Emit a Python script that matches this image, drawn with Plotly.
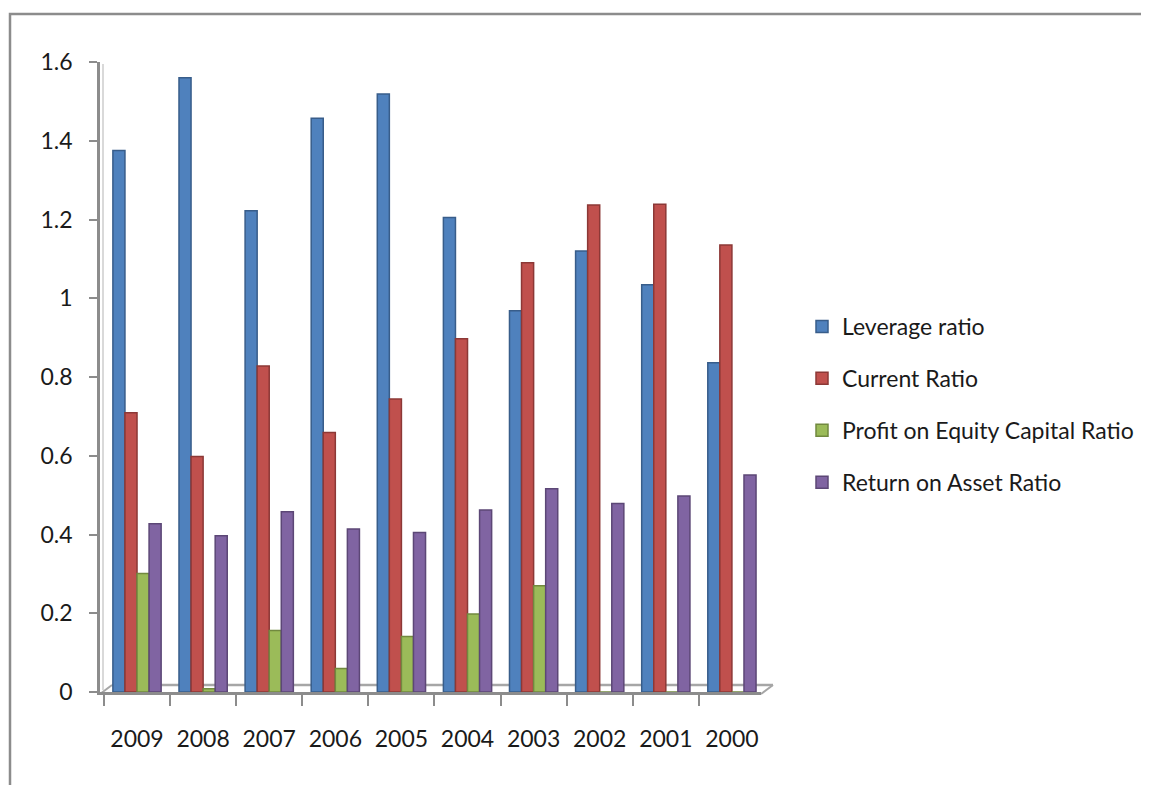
import plotly.graph_objects as go

years = ["2009", "2008", "2007", "2006", "2005", "2004", "2003", "2002", "2001", "2000"]
leverage = [1.375, 1.56, 1.222, 1.457, 1.519, 1.205, 0.968, 1.12, 1.034, 0.836]
current = [0.709, 0.598, 0.828, 0.659, 0.744, 0.897, 1.09, 1.237, 1.239, 1.135]
profit_equity = [0.301, 0.008, 0.156, 0.06, 0.141, 0.198, 0.27, 0, 0, 0]
return_asset = [0.427, 0.397, 0.458, 0.414, 0.405, 0.462, 0.516, 0.479, 0.498, 0.551]

series = [
    ("Leverage ratio", leverage, "#4F81BD", "#385D8A"),
    ("Current Ratio", current, "#C0504D", "#8C3836"),
    ("Profit on Equity Capital Ratio", profit_equity, "#9BBB59", "#71893F"),
    ("Return on Asset Ratio", return_asset, "#8064A2", "#5C4776"),
]

FONT = "Lato, sans-serif"
fig = go.Figure()
for i, (name, vals, col, edge) in enumerate(series):
    fig.add_trace(go.Bar(
        x=years, y=vals, name=name, legendgroup=name,
        marker=dict(color=col, line=dict(color=edge, width=1.5)),
    ))

# page has an 8px body margin: figure coords = reference coords - 8
OFF = 8
W, H = 1149 - OFF, 785 - OFF
L, R, T, B = 100 - OFF, 761 - OFF, 62 - OFF, 692 - OFF
def px(x):
    return (x - OFF - L) / (R - L)
def py(y):
    return (B - (y - OFF)) / (B - T)

gray = "#8C8C8C"
shapes = [
    dict(type="rect", xref="paper", yref="paper", x0=px(10), y0=py(900), x1=px(1300), y1=py(14),
         line=dict(color=gray, width=2.5), layer="below"),
    dict(type="line", xref="paper", yref="paper", x0=px(112), y0=py(685), x1=px(773), y1=py(685),
         line=dict(color="#A6A6A6", width=2.5), layer="below"),
    dict(type="line", xref="paper", yref="paper", x0=px(100), y0=py(694), x1=px(112), y1=py(685),
         line=dict(color="#A6A6A6", width=2), layer="below"),
    dict(type="line", xref="paper", yref="paper", x0=px(761), y0=py(694), x1=px(773), y1=py(685),
         line=dict(color="#A6A6A6", width=2), layer="below"),
    dict(type="line", xref="paper", yref="paper", x0=px(103), y0=py(64), x1=px(103), y1=py(690),
         line=dict(color="#D9D9D9", width=2), layer="below"),
]

fig.update_layout(
    width=W, height=H, autosize=False,
    margin=dict(l=L, r=W - R, t=T, b=H - B),
    paper_bgcolor="white", plot_bgcolor="white",
    barmode="group", bargap=0.27, bargroupgap=0.0,
    font=dict(family=FONT, size=22, color="#1a1a1a"),
    showlegend=True,
    legend=dict(xref="container", yref="container", x=794 / W, y=1 - 297 / H,
                xanchor="left", yanchor="top", tracegroupgap=19,
                font=dict(family=FONT, size=23, color="#1a1a1a"),
                bgcolor="rgba(0,0,0,0)"),
    shapes=shapes,
    xaxis=dict(type="category", categoryorder="array", categoryarray=years,
               range=[-0.56, 9.44], showgrid=False, zeroline=False,
               showline=True, linecolor=gray, linewidth=2.5,
               ticks="outside", tickson="boundaries", ticklen=11, tickwidth=2, tickcolor=gray,
               ticklabelstandoff=25, tickfont=dict(family=FONT, size=23)),
    yaxis=dict(range=[0, 1.6], dtick=0.2, tick0=0, showgrid=False, zeroline=False,
               showline=True, linecolor=gray, linewidth=2.5,
               ticks="outside", ticklen=8, tickwidth=2, tickcolor=gray,
               ticklabelstandoff=12, tickfont=dict(family=FONT, size=23)),
)

fig.write_html("out.html")
